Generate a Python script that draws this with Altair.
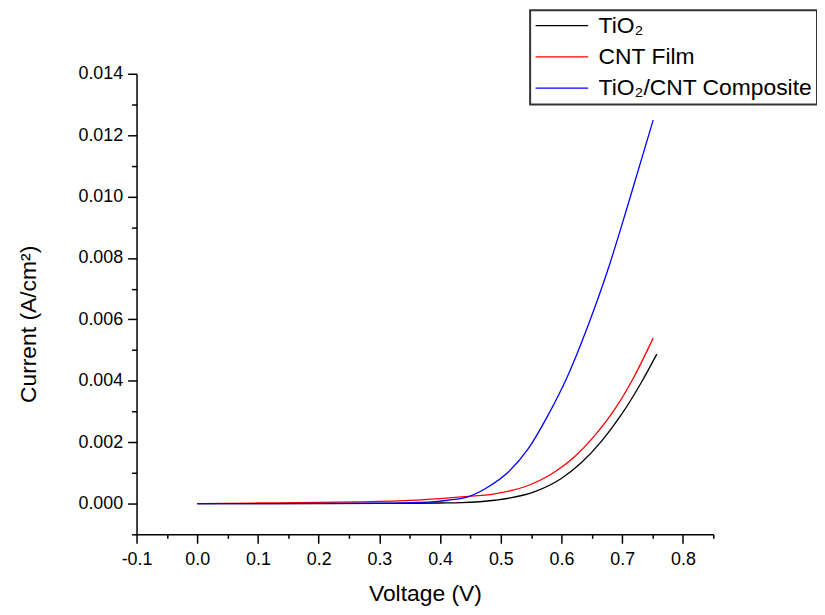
import altair as alt
import pandas as pd

# ---- data (voltage in V, current in A/cm^2) ----
series_names = ["TiO₂", "CNT Film", "TiO₂/CNT Composite"]
series_colors = ["#000000", "#ff0000", "#0000ff"]

v_tio2 = [0.00, 0.10, 0.20, 0.30, 0.40, 0.435, 0.49, 0.555, 0.599, 0.632, 0.665, 0.698, 0.731, 0.757]
i_tio2 = [0.0, 0.000001, 0.000003, 0.000008, 0.00002, 0.00003, 0.00011, 0.00038, 0.00081,
          0.00132, 0.00201, 0.00288, 0.00393, 0.00487]

v_cnt = [0.00, 0.10, 0.20, 0.30, 0.38, 0.435, 0.49, 0.545, 0.588, 0.621, 0.654, 0.687, 0.720, 0.751]
i_cnt = [0.0, 0.00002, 0.00004, 0.00007, 0.00014, 0.00022, 0.00032, 0.00059, 0.00102,
         0.00152, 0.00220, 0.00305, 0.00415, 0.00539]

v_comp = [0.00, 0.10, 0.20, 0.30, 0.38, 0.413, 0.446, 0.479, 0.512, 0.545, 0.577, 0.610,
          0.643, 0.676, 0.709, 0.751]
i_comp = [0.0, 0.000002, 0.000005, 0.000015, 0.00005, 0.00011, 0.00022, 0.00054, 0.00102,
          0.00178, 0.00285, 0.00415, 0.00576, 0.00759, 0.00970, 0.01249]

x_tick_values = [-0.1, -0.05, 0.0, 0.05, 0.1, 0.15, 0.2, 0.25, 0.3, 0.35, 0.4, 0.45,
                 0.5, 0.55, 0.6, 0.65, 0.7, 0.75, 0.8, 0.85]
y_tick_values = [-0.001, 0.0, 0.001, 0.002, 0.003, 0.004, 0.005, 0.006, 0.007, 0.008,
                 0.009, 0.010, 0.011, 0.012, 0.013, 0.014]

rows = []
for name, vs, cs in zip(series_names, [v_tio2, v_cnt, v_comp], [i_tio2, i_cnt, i_comp]):
    for v, c in zip(vs, cs):
        rows.append({"series": name, "voltage": v, "current": c})
df = pd.DataFrame(rows)

FONT = "Liberation Sans"
major_x = "abs(datum.value*10 - round(datum.value*10)) < 0.000001"
major_y = "abs(datum.value*500 - round(datum.value*500)) < 0.000001"

x_axis = alt.Axis(
    values=x_tick_values, format=".1f",
    labelExpr=f"({major_x}) ? replace(datum.label, '\u2212', '-') : ''",
    tickSize={"condition": {"test": major_x, "value": 9}, "value": 4},
    grid=False, domainColor="black", domainWidth=1.5, tickColor="black", tickWidth=1.5,
    labelColor="black", labelFont=FONT, labelFontSize=18, labelPadding=7,
    labelOverlap=False, labelFlush=False,
    title="Voltage (V)", titleFont=FONT, titleFontSize=23, titleFontWeight="normal",
    titleColor="black", titleBaseline="alphabetic", titleY=67,
)
y_axis = alt.Axis(
    values=y_tick_values, format=".3f",
    labelExpr=f"({major_y}) ? datum.label : ''",
    tickSize={"condition": {"test": major_y, "value": 9}, "value": 5},
    grid=False, domainColor="black", domainWidth=1.5, tickColor="black", tickWidth=1.5,
    labelColor="black", labelFont=FONT, labelFontSize=18, labelPadding=5,
    labelOverlap=False, labelFlush=False,
    title="Current (A/cm²)", titleFont=FONT, titleFontSize=23, titleFontWeight="normal",
    titleColor="black", titleBaseline="alphabetic", titleX=-102, titleY=252,
)

legend = alt.Legend(
    title=None, orient="none", legendX=396.5, legendY=-64,
    symbolType="M-1,0H4.3", symbolSize=400, symbolStrokeWidth=1.2,
    labelFont=FONT, labelFontSize=23, labelColor="black", labelOffset=42,
    labelLimit=400, padding=4, rowPadding=7.5,
    strokeColor="#333333", fillColor="white",
)

chart = alt.Chart(df).mark_line(strokeWidth=1.3, interpolate="monotone").encode(
    x=alt.X("voltage:Q", scale=alt.Scale(domain=[-0.1, 0.85], nice=False, zero=False), axis=x_axis),
    y=alt.Y("current:Q", scale=alt.Scale(domain=[-0.001, 0.014], nice=False, zero=False), axis=y_axis),
    color=alt.Color("series:N", scale=alt.Scale(domain=series_names, range=series_colors),
                    sort=series_names, legend=legend),
    detail="series:N",
).properties(
    width=581, height=464,
    padding={"left": 129.5, "top": 64, "right": 104.5, "bottom": 75},
    autosize=alt.AutoSizeParams(type="none"),
).configure_view(stroke=None).configure_legend(strokeWidth=2)

chart.save("out.html", embed_options={"renderer": "svg", "actions": False})
